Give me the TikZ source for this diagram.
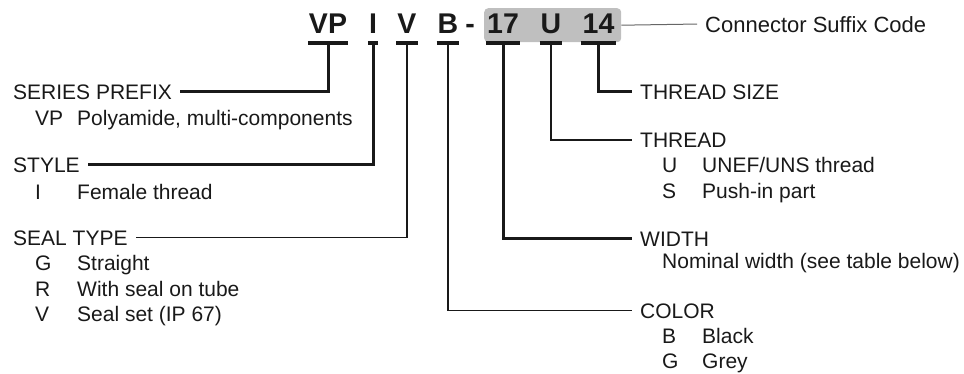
\documentclass[tikz,border=0pt]{standalone}
\usepackage{fontspec}
\setmainfont{Liberation Sans}
\usetikzlibrary{positioning}
\tikzstyle{codepart} = [anchor=base, inner xsep=1pt, inner ysep=9.5pt, text depth=0pt, font=\fontsize{28.5}{30}\selectfont\bfseries, text=black!90]
\tikzstyle{fieldname} = [anchor=base west, inner xsep=8pt, inner ysep=0pt, text depth=0pt, font=\fontsize{21}{24}\selectfont, text=black!90]
\tikzstyle{optentry} = [anchor=base west, inner sep=0pt, font=\fontsize{21}{24}\selectfont, text=black!90]
\tikzstyle{suffixbox} = [fill=black!25, rounded corners=4pt, minimum width=137pt, minimum height=34pt, anchor=north west, inner sep=0pt]
\tikzstyle{bar} = [draw, line width=4pt, color=black!90]
\tikzstyle{stem} = [draw, line width=3pt, color=black!90]
\tikzstyle{thinstem} = [draw, line width=1.6pt, color=black!90]
\tikzstyle{leader} = [draw, line width=1pt, color=black!60]
\newcommand{\codepart}[2]{node (c#1) [codepart] {#2}}
\newcommand{\fieldname}[2]{node (f#1) [fieldname] {#2}}
\newcommand{\optentry}[2]{node (o#1) [optentry] {#2}}
\begin{document}
\begin{tikzpicture}[x=1pt,y=-1pt]
\useasboundingbox (0,0) rectangle (964,373);
% order code
\path (484,8) node (box) [suffixbox] {};
\path (328,33) \codepart{VP}{VP};
\path (cVP.base)+(45,0) \codepart{I}{I};
\path (cVP.base)+(79,0) \codepart{V}{V};
\path (cVP.base)+(120,0) \codepart{B}{B};
\path (cVP.base)+(142,0) \codepart{dash}{-};
\path (cVP.base)+(175,0) \codepart{17}{17};
\path (cVP.base)+(223,0) \codepart{U}{U};
\path (cVP.base)+(270.5,0) \codepart{14}{14};
\path [bar] (cVP.south west) -- (cVP.south east);
\path [bar] (cI.south west) -- (cI.south east);
\path [bar] (cV.south west) -- (cV.south east);
\path [bar] (cB.south west) -- (cB.south east);
\path [bar] (c17.south west) -- (c17.south east);
\path [bar] (cU.south west) -- (cU.south east);
\path [bar] (c14.south west) -- (c14.south east);
\path (697,32) \fieldname{suffix}{\fontsize{22}{24}\selectfont Connector Suffix Code};
\path [leader] (box.east) -- (fsuffix.west);

% left fields
\path (5,99) \fieldname{series}{SERIES PREFIX};
\path (fseries.base west)+(30,26) \optentry{VP}{VP};
\path (fseries.base west)+(72,26) \optentry{VPt}{Polyamide, multi-components};
\path (fseries.base west)+(0,73) \fieldname{style}{STYLE};
\path (fstyle.base west)+(30,27) \optentry{I}{I};
\path (fstyle.base west)+(72,27) \optentry{It}{Female thread};
\path (fstyle.base west)+(0,73) \fieldname{seal}{SEAL TYPE};
\path (fseal.base west)+(30,25) \optentry{G}{G};
\path (fseal.base west)+(72,25) \optentry{Gt}{Straight};
\path (oG.base west)+(0,26) \optentry{R}{R};
\path (oGt.base west)+(0,26) \optentry{Rt}{With seal on tube};
\path (oR.base west)+(0,25) \optentry{V}{V};
\path (oRt.base west)+(0,25) \optentry{Vt}{Seal set (IP 67)};

% right fields
\path (632,99) \fieldname{size}{THREAD SIZE};
\path (fsize.base west)+(0,48) \fieldname{thread}{THREAD};
\path (fthread.base west)+(30,25) \optentry{U}{U};
\path (fthread.base west)+(70,25) \optentry{Ut}{UNEF/UNS thread};
\path (oU.base west)+(0,26) \optentry{S}{S};
\path (oUt.base west)+(0,26) \optentry{St}{Push-in part};
\path (fthread.base west)+(0,99) \fieldname{width}{WIDTH};
\path (fwidth.base west)+(30,22) \optentry{Wt}{Nominal width (see table below)};
\path (fwidth.base west)+(0,72) \fieldname{color}{COLOR};
\path (fcolor.base west)+(30,25) \optentry{B}{B};
\path (fcolor.base west)+(70,25) \optentry{Bt}{Black};
\path (oB.base west)+(0,25) \optentry{Gr}{G};
\path (oBt.base west)+(0,25) \optentry{Grt}{Grey};

% connectors
\path [stem] (cVP.south) |- (fseries.east);
\path [stem] (cI.south) |- (fstyle.east);
\path [thinstem] (cV.south) |- (fseal.east);
\path [thinstem] (cB.south) |- (fcolor.west);
\path [stem] (c17.south) |- (fwidth.west);
\path [thinstem] (cU.south) |- (fthread.west);
\path [stem] (c14.south) |- (fsize.west);
\end{tikzpicture}
\end{document}
